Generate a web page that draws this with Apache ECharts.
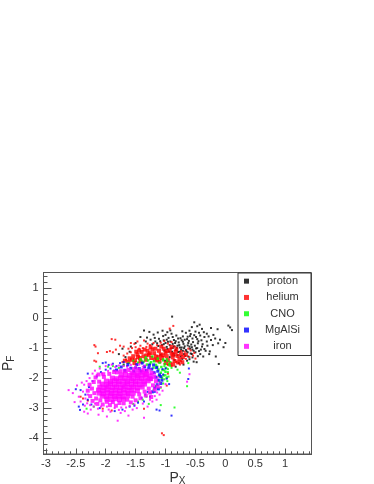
<!DOCTYPE html>
<html><head><meta charset="utf-8">
<style>html,body{margin:0;padding:0;background:#fff}#c{width:374px;height:484px}</style>
<script src="https://cdn.jsdelivr.net/npm/echarts@6/dist/echarts.min.js"></script>
</head><body><div id="c"></div>
<script>
const seriesNames=['proton','helium','CNO','MgAlSi','iron'];
const seriesColors=['#000000','#ff0000','#00ff00','#0000ff','#ff00ff'];
const xMajor=[-3,-2.5,-2,-1.5,-1,-0.5,0,0.5,1];
const yMajor=[-4,-3,-2,-1,0,1];
const proton=[[0.05,-0.25],[0.08,-0.31],[0.11,-0.4],[-0.89,0.05],[-0.52,-0.14],[-0.43,-0.22],[-0.39,-0.36],[-0.24,-0.33],[-0.13,-0.37],[-0.31,-0.52],[-0.2,-0.56],[-0.09,-0.72],[0,-0.83],[-0.03,-0.97],[-0.16,-1.28],[-0.11,-1.53],[-0.26,-1.11],[-0.37,-1.28],[-0.48,-1.47],[-0.47,-0.27],[-0.56,-0.3],[-0.6,-0.42],[-0.5,-0.45],[-0.44,-0.49],[-0.36,-0.47],[-0.28,-0.61],[-0.35,-0.63],[-0.42,-0.58],[-0.52,-0.57],[-0.58,-0.53],[-0.66,-0.49],[-0.72,-0.44],[-0.63,-0.62],[-0.55,-0.68],[-0.47,-0.7],[-0.4,-0.74],[-0.31,-0.78],[-0.24,-0.73],[-0.17,-0.68],[-0.12,-0.84],[-0.21,-0.9],[-0.3,-0.92],[-0.38,-0.87],[-0.46,-0.84],[-0.54,-0.8],[-0.61,-0.76],[-0.68,-0.72],[-0.75,-0.67],[-0.82,-0.58],[-0.9,-0.52],[-0.97,-0.47],[-1.05,-0.42],[-1.13,-0.48],[-1.2,-0.55],[-1.27,-0.46],[-1.36,-0.41],[-1.04,-0.6],[-0.95,-0.66],[-0.86,-0.73],[-0.78,-0.81],[-0.7,-0.86],[-0.63,-0.91],[-0.56,-0.97],[-0.49,-1.01],[-0.41,-1.05],[-0.33,-1.09],[-0.27,-1.2],[-0.42,-1.2],[-0.5,-1.14],[-0.58,-1.18],[-0.66,-1.06],[-0.73,-0.98],[-0.8,-0.92],[-0.88,-0.86],[-0.96,-0.79],[-1.03,-0.74],[-1.11,-0.69],[-1.18,-0.66],[-1.25,-0.72],[-1.33,-0.78],[-1.42,-0.63],[-1.5,-0.83],[-1.58,-0.95],[-1.14,-0.84],[-1.06,-0.9],[-0.98,-0.96],[-0.91,-1.01],[-0.83,-1.06],[-0.76,-1.12],[-0.69,-1.2],[-0.62,-1.28],[-0.55,-1.31],[-0.64,-1.42],[-0.72,-1.36],[-0.8,-1.24],[-0.87,-1.18],[-0.94,-1.12],[-1.02,-1.08],[-0.93,-1.3],[-0.85,-1.4],[-0.78,-1.5],[-0.7,-1.55],[-0.83,-1.62],[-1.6,-1.12],[-1.72,-1.02],[-1.78,-1.2],[-1.67,-1.3],[-1.7,-1.55],[-1.01,-1.42],[-1.08,-1.22]];
const protonDense=[[-1.12,-0.93],[-1.03,-0.87],[-0.97,-1.03],[-0.93,-0.9],[-0.88,-1.0],[-0.84,-0.83],[-0.81,-0.99],[-0.77,-0.9],[-0.74,-1.05],[-0.71,-0.79],[-0.68,-0.94],[-0.65,-1.11],[-0.62,-0.83],[-0.59,-1.02],[-0.57,-0.88],[-0.53,-1.09],[-0.51,-0.92],[-0.47,-1.0],[-0.44,-1.1],[-0.45,-0.77],[-0.39,-0.95],[-0.35,-1.03],[-0.89,-1.12],[-0.85,-1.24],[-0.79,-1.13],[-0.75,-1.28],[-0.71,-1.09],[-0.67,-1.26],[-0.63,-1.14],[-0.6,-1.37],[-0.56,-1.2],[-0.53,-1.45],[-0.46,-1.27],[-0.98,-0.72],[-1.09,-0.77],[-1.17,-0.78],[-1.22,-0.87],[-0.79,-0.68],[-0.71,-0.61],[-0.88,-0.63],[-0.59,-0.6],[-0.49,-0.63],[-1.0,-0.56],[-1.31,-0.65],[-0.92,-0.41],[-0.86,-0.94],[-0.76,-0.98],[-0.69,-1.0],[-0.6,-0.95],[-0.55,-1.05],[-0.83,-0.77],[-0.73,-0.74],[-0.64,-0.7],[-0.92,-0.78],[-1.0,-0.83]];
const helium=[[-0.87,-0.26],[-0.93,-0.35],[-2.19,-0.9],[-2.17,-0.95],[-1.9,-0.7],[-1.84,-0.72],[-1.06,-3.84],[-1.03,-3.9],[-2.19,-1.42],[-2.16,-1.45],[-2.13,-1.17],[-1.98,-1.13],[-1.93,-1.1],[-1.88,-1.14],[-1.83,-1.05],[-1.76,-0.92],[-1.7,-0.95],[-1.58,-0.83],[-1.52,-0.86],[-1.47,-0.78],[-1.42,-0.92],[-1.36,-0.75],[-1.3,-0.85],[-1.62,-1.02],[-1.56,-1.0],[-1.5,-0.97],[-1.44,-1.02],[-1.38,-1.0],[-1.32,-0.96],[-1.26,-0.9],[-1.2,-0.83],[-1.14,-0.9],[-1.08,-0.82],[-1.02,-0.76],[-0.96,-0.85],[-0.9,-0.8],[-0.84,-0.95],[-1.7,-1.25],[-1.64,-1.18],[-1.58,-1.14],[-0.74,-1.1],[-0.68,-1.12],[-0.62,-1.02],[-0.58,-1.08],[-0.52,-1.16],[-1.66,-1.38],[-0.6,-1.3],[-0.54,-1.25],[-0.5,-1.35],[-0.66,-1.36],[-1.72,-1.46],[-0.74,-1.44],[-0.82,-1.46],[-1.02,-1.52],[-0.96,-1.56],[-0.9,-1.6],[-0.76,-1.55],[-0.96,-1.85],[-2.42,-2.62],[-2.38,-2.68],[-2.3,-2.75],[-2.05,-3.02],[-1.9,-3.08],[-1.36,-3.02],[-0.98,-2.25]];
const heliumDense=[[-1.6,-1.34],[-1.54,-1.27],[-1.51,-1.4],[-1.47,-1.21],[-1.43,-1.33],[-1.4,-1.13],[-1.37,-1.27],[-1.33,-1.39],[-1.3,-1.09],[-1.28,-1.22],[-1.24,-1.33],[-1.22,-1.04],[-1.19,-1.17],[-1.16,-1.28],[-1.14,-1.41],[-1.11,-1.09],[-1.08,-1.21],[-1.06,-1.33],[-1.03,-1.02],[-1.0,-1.15],[-0.98,-1.27],[-0.96,-1.4],[-0.93,-1.07],[-0.9,-1.19],[-0.88,-1.31],[-0.85,-1.43],[-0.83,-1.13],[-0.8,-1.26],[-0.77,-1.37],[-0.74,-1.2],[-0.71,-1.3],[-0.92,-1.52],[-1.35,-1.05],[-1.46,-1.3],[-1.26,-1.17],[-1.12,-1.3],[-1.04,-1.24],[-0.87,-1.22],[-1.18,-1.38],[-1.32,-1.24],[-1.56,-1.39],[-0.72,-1.47],[-0.66,-1.22],[-1.49,-1.12],[-1.44,-1.08],[-1.25,-0.97],[-1.17,-1.02],[-1.07,-0.95],[-0.98,-1.1],[-0.9,-0.96],[-0.82,-1.04],[-0.79,-1.48],[-0.87,-1.55],[-0.99,-1.5],[-1.1,-1.44],[-1.62,-1.46],[-1.68,-1.42],[-1.52,-1.5],[-1.42,-1.45]];
const cno=[[-2.1,-1.62],[-1.62,-1.5],[-1.54,-1.42],[-1.46,-1.48],[-1.4,-1.42],[-1.34,-1.38],[-1.04,-1.42],[-0.98,-1.36],[-0.92,-1.46],[-0.94,-1.53],[-1.02,-1.6],[-0.96,-1.7],[-0.9,-1.66],[-1.02,-1.74],[-0.96,-1.8],[-1.0,-1.9],[-0.95,-1.95],[-1.02,-2.04],[-0.97,-2.1],[-1.1,-2.12],[-1.04,-2.18],[-1.16,-2.26],[-1.08,-2.32],[-1.2,-2.4],[-1.26,-2.5],[-1.32,-2.62],[-1.38,-2.72],[-1.46,-2.78],[-1.54,-2.86],[-1.08,-2.9],[-0.85,-2.98],[-1.28,-2.86],[-2.32,-3.02],[-2.2,-2.95],[-0.62,-1.5],[-0.8,-1.72],[-0.76,-1.82],[-0.64,-2.27],[-1.7,-1.58],[-1.78,-1.66],[-1.88,-1.6],[-1.96,-1.62]];
const cnoDense=[[-1.42,-1.37],[-1.37,-1.46],[-1.33,-1.31],[-1.29,-1.41],[-1.26,-1.52],[-1.22,-1.28],[-1.19,-1.44],[-1.16,-1.56],[-1.13,-1.35],[-1.1,-1.49],[-1.07,-1.63],[-1.04,-1.38],[-1.01,-1.53],[-0.99,-1.66],[-0.97,-1.43],[-1.12,-1.71],[-1.08,-1.82],[-1.05,-1.73],[-1.03,-1.91],[-1.0,-1.79],[-1.14,-1.62],[-1.24,-1.47],[-1.31,-1.55],[-1.2,-1.65],[-0.93,-1.58],[-1.06,-1.99],[-1.11,-1.92],[-0.98,-1.98]];
const mgalsi=[[-2.3,-1.85],[-2.42,-2.4],[-2.5,-2.37],[-2.45,-2.95],[-2.38,-2.88],[-2.43,-3.06],[-1.15,-3.05],[-1.1,-3.08],[-0.9,-3.25],[-0.61,-1.68],[-0.62,-2.03],[-2.05,-1.5],[-2.0,-1.48],[-1.95,-1.56],[-1.88,-1.52],[-1.82,-1.6],[-1.76,-1.5],[-1.7,-1.47],[-1.64,-1.6],[-1.18,-2.46],[-1.3,-2.46],[-1.34,-2.55],[-1.26,-2.62],[-1.4,-2.66],[-1.36,-2.78],[-1.46,-2.82],[-1.52,-2.92],[-1.6,-2.95],[-1.72,-3.05],[-1.85,-3.1],[-2.1,-3.0],[-2.24,-2.88],[-2.3,-2.72],[-2.34,-2.55],[-2.28,-2.3],[-2.22,-2.1],[-2.15,-1.95],[-2.08,-1.8],[-2.0,-1.72],[-1.92,-1.68],[-1.86,-1.75],[-1.05,-1.7],[-1.0,-1.68],[-1.04,-1.88],[-0.98,-2.02],[-0.94,-2.2]];
const mgalsiDense=[[-1.82,-1.73],[-1.74,-1.63],[-1.68,-1.74],[-1.63,-1.55],[-1.58,-1.67],[-1.53,-1.77],[-1.48,-1.55],[-1.44,-1.68],[-1.39,-1.5],[-1.35,-1.62],[-1.32,-1.74],[-1.27,-1.57],[-1.23,-1.7],[-1.19,-1.82],[-1.15,-1.65],[-1.13,-1.77],[-1.1,-1.89],[-1.16,-1.97],[-1.12,-2.07],[-1.08,-2.18],[-1.14,-2.22],[-1.18,-2.33],[-1.12,-2.36],[-1.22,-2.46],[-1.28,-1.66],[-1.41,-1.77],[-1.5,-1.66],[-1.2,-1.56],[-1.08,-1.95],[-1.06,-2.07]];
const iron=[[-0.6,-1.87],[-0.64,-2.12],[-2.62,-2.4],[-2.55,-2.5],[-2.48,-2.25],[-2.45,-2.62],[-2.52,-2.8],[-2.4,-2.15],[-2.38,-2.45],[-2.42,-2.78],[-2.35,-2.92],[-2.36,-3.12],[-2.3,-3.18],[-2.25,-3.05],[-2.12,-3.22],[-2.05,-3.1],[-1.98,-3.28],[-1.92,-3.12],[-1.8,-3.42],[-1.75,-3.16],[-1.68,-3.1],[-1.62,-3.25],[-1.55,-3.05],[-1.48,-3.0],[-1.36,-3.32],[-1.3,-2.95],[-1.22,-2.78],[-1.15,-2.72],[-1.1,-2.55],[-1.05,-2.42],[-1.0,-2.2],[-2.32,-2.1],[-2.3,-2.55],[-2.27,-2.0],[-2.22,-1.85],[-2.18,-1.75],[-2.1,-1.68],[-2.0,-1.6],[-1.9,-1.55],[-1.78,-1.58],[-1.64,-1.62],[-1.5,-1.6],[-1.38,-1.62],[-1.18,-2.6],[-2.2,-2.95],[-2.18,-2.85],[-2.08,-2.95],[-1.98,-2.95],[-1.85,-3.0],[-1.74,-2.98],[-1.6,-2.93],[-2.36,-2.22],[-2.34,-2.68],[-2.31,-2.84],[-2.26,-2.9],[-2.13,-3.02],[-1.95,-3.05],[-1.78,-3.06],[-1.66,-2.98],[-1.52,-2.88],[-1.38,-2.85],[-1.26,-2.72],[-1.14,-2.48],[-1.08,-2.3],[-1.1,-2.15],[-1.13,-1.98],[-1.18,-1.85],[-1.25,-1.72],[-1.34,-1.58],[-1.44,-1.55],[-1.58,-1.56],[-1.7,-1.6],[-1.84,-1.63],[-1.96,-1.76],[-2.06,-1.85],[-2.15,-1.9]];
const ironEdge=[[-2.3,-2.42],[-2.27,-2.22],[-2.26,-2.6],[-2.23,-2.35],[-2.22,-2.76],[-2.2,-2.13],[-2.19,-2.5],[-2.17,-1.98],[-2.16,-2.68],[-2.14,-2.86],[-2.12,-1.88],[-2.11,-2.12],[-2.09,-2.74],[-2.05,-2.88],[-2.04,-1.87],[-2.03,-1.96],[-1.98,-2.79],[-1.94,-1.86],[-1.93,-2.9],[-1.88,-2.8],[-1.86,-1.8],[-1.83,-2.92],[-1.81,-1.81],[-1.77,-2.83],[-1.75,-1.77],[-1.7,-2.84],[-1.68,-1.77],[-1.64,-2.72],[-1.62,-1.73],[-1.58,-2.81],[-1.55,-2.62],[-1.53,-1.7],[-1.5,-2.74],[-1.46,-1.71],[-1.44,-2.54],[-1.42,-2.67],[-1.37,-1.73],[-1.35,-2.45],[-1.33,-2.58],[-1.3,-1.76],[-1.28,-2.35],[-1.26,-2.48],[-1.23,-1.83],[-1.21,-2.24],[-1.19,-1.96],[-1.18,-2.38],[-1.16,-2.1],[-1.13,-2.28],[-1.24,-2.03],[-1.24,-2.63]];
const ironCore=[[-1.56,-1.83],[-1.48,-1.84],[-1.41,-1.8],[-1.34,-1.85],[-1.74,-1.9],[-1.67,-1.88],[-1.6,-1.91],[-1.53,-1.89],[-1.46,-1.92],[-1.39,-1.9],[-1.32,-1.88],[-1.26,-1.92],[-1.89,-2.0],[-1.82,-2.02],[-1.75,-1.99],[-1.68,-2.01],[-1.61,-2.0],[-1.54,-2.02],[-1.47,-1.99],[-1.4,-2.01],[-1.33,-2.0],[-1.26,-2.02],[-1.99,-2.1],[-1.92,-2.12],[-1.85,-2.09],[-1.78,-2.11],[-1.71,-2.1],[-1.64,-2.12],[-1.57,-2.09],[-1.5,-2.11],[-1.43,-2.1],[-1.36,-2.12],[-1.29,-2.09],[-2.06,-2.2],[-1.99,-2.22],[-1.92,-2.19],[-1.85,-2.21],[-1.78,-2.2],[-1.71,-2.22],[-1.64,-2.19],[-1.57,-2.21],[-1.5,-2.2],[-1.43,-2.22],[-1.35,-2.2],[-2.1,-2.3],[-2.03,-2.32],[-1.96,-2.29],[-1.89,-2.31],[-1.82,-2.3],[-1.75,-2.32],[-1.68,-2.29],[-1.61,-2.31],[-1.54,-2.3],[-1.47,-2.32],[-1.39,-2.3],[-2.12,-2.4],[-2.05,-2.42],[-1.98,-2.39],[-1.91,-2.41],[-1.84,-2.4],[-1.77,-2.42],[-1.7,-2.39],[-1.63,-2.41],[-1.56,-2.4],[-1.47,-2.42],[-2.11,-2.5],[-2.04,-2.52],[-1.97,-2.49],[-1.9,-2.51],[-1.83,-2.5],[-1.76,-2.52],[-1.69,-2.49],[-1.62,-2.51],[-1.54,-2.5],[-2.06,-2.6],[-1.99,-2.62],[-1.92,-2.59],[-1.85,-2.61],[-1.78,-2.6],[-1.71,-2.62],[-1.63,-2.59],[-1.98,-2.7],[-1.91,-2.72],[-1.84,-2.69],[-1.77,-2.71],[-1.7,-2.7]];
const xMinor=[-3,-2.9,-2.8,-2.7,-2.6,-2.5,-2.4,-2.3,-2.2,-2.1,-2,-1.9,-1.8,-1.7,-1.6,-1.5,-1.4,-1.3,-1.2,-1.1,-1,-0.9,-0.8,-0.7,-0.6,-0.5,-0.4,-0.3,-0.2,-0.1,0,0.1,0.2,0.3,0.4,0.5,0.6,0.7,0.8,0.9,1,1.1,1.2,1.3,1.4];
const yMinor=[-4.4,-4.2,-4,-3.8,-3.6,-3.4,-3.2,-3,-2.8,-2.6,-2.4,-2.2,-2,-1.8,-1.6,-1.4,-1.2,-1,-0.8,-0.6,-0.4,-0.2,0,0.2,0.4,0.6,0.8,1,1.2,1.4];
const layers=[[proton,0,2,'proton'],[protonDense,0,2,'protonDense'],[helium,1,2,'helium'],[heliumDense,1,4,'heliumDense'],[cno,2,2,'CNO'],[cnoDense,2,2.5,'cnoDense'],[mgalsi,3,2,'MgAlSi'],[mgalsiDense,3,3,'mgalsiDense'],[iron,4,2,'iron'],[ironEdge,4,4,'ironEdge'],[ironCore,4,5,'ironCore']];
const chart=echarts.init(document.getElementById('c'),null,{renderer:'canvas'});
const font='"Liberation Sans",Arial,sans-serif';
const X0=-3.04,X1=1.44,Y0=-4.53,Y1=1.52;
const lineC='#555';
function mkAxis(type,min,max,major,minor){
  const base={type:'value',min,max,position:type==='x'?'bottom':'left',splitLine:{show:false},axisLine:{show:true,onZero:false,lineStyle:{color:lineC,width:1}}};
  return [
   Object.assign({},base,{axisTick:{show:true,inside:true,length:type==='x'?5.5:8,customValues:major,lineStyle:{color:lineC}},
     axisLabel:{show:true,customValues:major,color:'#333',fontFamily:font,fontSize:11,margin:type==='x'?4:5,formatter:v=>String(v),hideOverlap:false}}),
   Object.assign({},base,{axisTick:{show:true,inside:true,length:type==='x'?2.7:4,customValues:minor,lineStyle:{color:lineC}},axisLabel:{show:false}})
  ];
}
const xs=mkAxis('x',X0,X1,xMajor,xMinor), ys=mkAxis('y',Y0,Y1,yMajor,yMinor);
const nameStyle={color:'#333',fontFamily:font,fontSize:14,rich:{s:{fontSize:10,verticalAlign:'bottom',padding:[6,0,0,0],fontFamily:font,color:'#333'}}};
xs[0].name='P{s|X}';xs[0].nameLocation='middle';xs[0].nameGap=16;xs[0].nameTextStyle=nameStyle;
ys[0].name='P{s|F}';ys[0].nameLocation='middle';ys[0].nameGap=27;ys[0].nameTextStyle=nameStyle;
const series=layers.map((l,i)=>({name:l[3],type:'scatter',symbol:'rect',symbolSize:l[2],data:l[0],itemStyle:{color:seriesColors[l[1]]},z:2+i*0.05,animation:false,silent:true}));
chart.setOption({
 animation:false,backgroundColor:'#fff',
 grid:{left:43.5,top:272.5,width:268,height:181.5,outerBoundsMode:'none',show:true,borderColor:lineC,borderWidth:1,backgroundColor:'transparent'},
 xAxis:xs,yAxis:ys,
 legend:{data:seriesNames,orient:'vertical',left:238,top:273,padding:[2,0,3,6],itemGap:4,itemWidth:5,itemHeight:5,icon:'rect',
   backgroundColor:'#fff',borderColor:'#333',borderWidth:1,selectedMode:false,z:10,
   formatter:n=>'{c|'+n+'}',
   textStyle:{color:'#333',fontFamily:font,fontSize:11,lineHeight:12.3,rich:{c:{width:57,align:'center',fontSize:11,fontFamily:font,color:'#333',lineHeight:12.3}}}},
 series
});
</script></body></html>
